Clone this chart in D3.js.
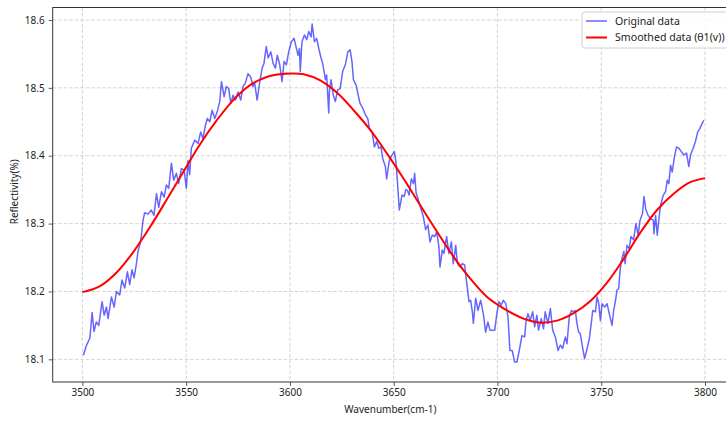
<!DOCTYPE html>
<html>
<head>
<meta charset="utf-8">
<script src="https://cdn.jsdelivr.net/npm/d3@7"></script>
<style>
html,body{margin:0;padding:0;background:#fff;}
svg{display:block;font-family:"Noto Sans","Open Sans",sans-serif;}
</style>
</head>
<body>
<svg id="chart" width="726" height="421"></svg>
<script>
// Original (noisy) data
const origWavenumber = [3500.5,3502.0,3503.6,3504.7,3505.6,3506.7,3507.9,3509.5,3510.5,3511.6,3512.4,3514.0,3515.3,3516.4,3518.0,3519.1,3520.4,3521.7,3522.8,3523.9,3524.9,3526.0,3526.8,3528.1,3529.2,3530.0,3531.7,3533.2,3534.5,3535.7,3536.8,3538.1,3539.4,3540.5,3541.6,3542.9,3544.0,3545.3,3546.4,3547.7,3549.0,3550.1,3550.9,3551.7,3552.5,3554.2,3555.7,3557.0,3558.1,3559.3,3560.2,3561.4,3562.5,3563.8,3565.0,3566.2,3567.0,3568.3,3569.4,3570.5,3571.5,3572.6,3573.7,3575.0,3576.3,3577.4,3578.5,3579.8,3581.1,3582.2,3583.0,3584.2,3585.5,3586.6,3587.5,3588.6,3589.5,3590.8,3591.9,3593.0,3593.9,3595.1,3596.2,3597.2,3598.3,3599.4,3600.7,3602.0,3603.0,3603.9,3604.6,3605.0,3605.8,3607.0,3608.1,3609.1,3610.2,3610.7,3611.8,3612.9,3613.9,3615.0,3615.8,3617.1,3617.7,3618.7,3619.0,3619.8,3620.9,3621.9,3623.0,3624.2,3625.4,3626.7,3627.9,3629.0,3629.9,3630.6,3631.9,3632.7,3633.8,3635.1,3636.4,3637.5,3638.3,3639.6,3640.7,3641.8,3642.8,3643.9,3644.7,3646.0,3646.6,3647.9,3649.2,3650.3,3651.1,3651.9,3652.7,3654.0,3655.1,3655.8,3656.6,3657.4,3658.5,3659.5,3660.1,3660.8,3661.7,3663.0,3664.3,3665.4,3666.5,3667.5,3668.6,3669.8,3670.7,3671.8,3672.3,3673.4,3674.2,3675.5,3676.6,3677.8,3678.7,3679.9,3680.7,3682.0,3683.1,3684.2,3685.2,3686.3,3687.1,3687.9,3688.4,3689.5,3690.6,3691.9,3693.2,3694.3,3695.4,3696.4,3697.5,3698.7,3699.6,3700.7,3701.8,3702.8,3704.0,3705.1,3706.0,3707.1,3708.3,3709.4,3710.5,3711.8,3713.1,3713.8,3714.7,3715.8,3717.0,3717.9,3719.0,3719.8,3721.1,3722.2,3723.0,3724.3,3725.5,3726.6,3727.9,3729.2,3730.3,3731.4,3732.7,3733.5,3734.6,3735.6,3736.7,3737.5,3738.3,3739.1,3739.9,3741.1,3742.0,3743.2,3744.3,3745.2,3745.9,3747.2,3748.0,3748.8,3749.6,3750.4,3751.7,3752.8,3753.9,3755.2,3756.0,3756.8,3757.6,3758.4,3759.1,3759.6,3760.9,3761.5,3762.4,3763.5,3764.3,3765.6,3766.7,3767.8,3768.7,3769.9,3770.6,3771.4,3772.6,3773.8,3775.1,3775.4,3776.2,3777.0,3777.8,3778.6,3779.9,3781.0,3781.8,3782.6,3783.4,3784.2,3785.3,3786.3,3787.4,3788.6,3789.8,3791.1,3792.2,3793.0,3794.3,3795.4,3796.5,3797.5,3798.7,3799.4];
const origReflectivity = [18.106,18.121,18.131,18.169,18.141,18.155,18.150,18.185,18.165,18.177,18.160,18.192,18.177,18.200,18.195,18.217,18.205,18.229,18.210,18.232,18.220,18.240,18.259,18.274,18.304,18.316,18.314,18.320,18.312,18.344,18.324,18.347,18.339,18.357,18.352,18.389,18.364,18.374,18.359,18.381,18.379,18.352,18.393,18.372,18.411,18.423,18.418,18.435,18.425,18.445,18.455,18.450,18.467,18.455,18.465,18.480,18.509,18.487,18.502,18.499,18.477,18.489,18.482,18.494,18.482,18.502,18.507,18.521,18.516,18.502,18.507,18.482,18.509,18.529,18.536,18.561,18.544,18.553,18.536,18.529,18.548,18.534,18.509,18.539,18.534,18.553,18.568,18.573,18.560,18.548,18.558,18.524,18.568,18.578,18.571,18.583,18.575,18.594,18.568,18.573,18.558,18.544,18.536,18.512,18.519,18.463,18.494,18.512,18.489,18.480,18.497,18.499,18.524,18.534,18.553,18.556,18.539,18.512,18.504,18.492,18.477,18.470,18.460,18.455,18.440,18.435,18.413,18.421,18.411,18.413,18.396,18.384,18.366,18.393,18.401,18.406,18.391,18.357,18.320,18.342,18.340,18.350,18.349,18.342,18.366,18.359,18.374,18.345,18.337,18.323,18.310,18.291,18.298,18.273,18.283,18.281,18.288,18.266,18.236,18.261,18.256,18.281,18.256,18.273,18.241,18.268,18.241,18.236,18.241,18.239,18.212,18.185,18.187,18.170,18.153,18.190,18.172,18.187,18.167,18.140,18.155,18.143,18.143,18.143,18.165,18.185,18.180,18.187,18.182,18.162,18.113,18.113,18.096,18.096,18.113,18.135,18.133,18.157,18.167,18.157,18.170,18.148,18.165,18.143,18.160,18.145,18.170,18.153,18.175,18.143,18.133,18.113,18.121,18.116,18.133,18.123,18.162,18.172,18.170,18.172,18.153,18.140,18.138,18.116,18.101,18.116,18.131,18.153,18.172,18.170,18.192,18.182,18.157,18.182,18.177,18.182,18.167,18.150,18.172,18.185,18.202,18.204,18.231,18.244,18.259,18.241,18.268,18.263,18.281,18.276,18.300,18.283,18.305,18.315,18.340,18.322,18.312,18.307,18.305,18.285,18.312,18.283,18.307,18.327,18.342,18.347,18.364,18.359,18.386,18.376,18.399,18.413,18.411,18.406,18.401,18.404,18.384,18.401,18.411,18.421,18.435,18.440,18.448,18.452];

// Smoothed data
const smoothWavenumber = [3500,3508.5,3516.5,3524.5,3532.6,3540.6,3548.6,3556.7,3564.7,3572.7,3580.8,3588.8,3595.2,3600,3606.6,3614.6,3622.6,3630.7,3638.7,3646.8,3654.8,3662.8,3670.9,3678.9,3686.9,3695.0,3701.4,3704.6,3712.6,3720.7,3728.7,3736.7,3744.8,3752.8,3760.8,3768.9,3776.9,3784.9,3792.9,3800];
const smoothReflectivity = [18.199,18.208,18.228,18.258,18.295,18.335,18.376,18.417,18.452,18.482,18.504,18.516,18.520,18.521,18.520,18.511,18.493,18.467,18.438,18.403,18.366,18.327,18.288,18.251,18.219,18.192,18.178,18.172,18.160,18.154,18.157,18.168,18.186,18.213,18.248,18.287,18.320,18.344,18.361,18.367];

const xTicks = [3500,3550,3600,3650,3700,3750,3800];
const yTicks = [18.1,18.2,18.3,18.4,18.5,18.6];
const seriesNames = ["Original data","Smoothed data (θ1(v))"];

const svg = d3.select("#chart");
const W = 726, H = 421;
const plot = {left:52.7, right:738, top:7.5, bottom:382};

const x = d3.scaleLinear().domain([3485.7, 3815.9]).range([plot.left, plot.right]);
const y = d3.scaleLinear().domain([18.0666, 18.6184]).range([plot.bottom, plot.top]);

svg.append("rect").attr("width",W).attr("height",H).attr("fill","#fff");

// grid
const grid = svg.append("g");
grid.selectAll("line.vx").data(xTicks).join("line")
  .attr("x1",d=>x(d)).attr("x2",d=>x(d)).attr("y1",plot.top).attr("y2",plot.bottom)
  .attr("stroke","#c8c8c8").attr("stroke-width",0.8).attr("stroke-dasharray","3.5,2");
grid.selectAll("line.hy").data(yTicks).join("line")
  .attr("y1",d=>y(d)).attr("y2",d=>y(d)).attr("x1",plot.left).attr("x2",plot.right)
  .attr("stroke","#c8c8c8").attr("stroke-width",0.8).attr("stroke-dasharray","3.5,2");

const orig = origWavenumber.map((w,i)=>[w, origReflectivity[i]]);
const smooth = smoothWavenumber.map((w,i)=>[w, smoothReflectivity[i]]);

svg.append("path").datum(orig)
  .attr("fill","none").attr("stroke","rgb(0,0,255)").attr("stroke-opacity",0.6)
  .attr("stroke-width",1.5).attr("stroke-linejoin","round")
  .attr("d", d3.line().x(d=>x(d[0])).y(d=>y(d[1])));

svg.append("path").datum(smooth)
  .attr("fill","none").attr("stroke","#ff0000").attr("stroke-width",2)
  .attr("d", d3.line().curve(d3.curveCatmullRom).x(d=>x(d[0])).y(d=>y(d[1])));

// axes
const xAxis = svg.append("g").attr("transform",`translate(0,${plot.bottom})`)
  .call(d3.axisBottom(x).tickValues(xTicks).tickSize(4).tickPadding(3).tickFormat(d3.format("d")));
const yAxis = svg.append("g").attr("transform",`translate(${plot.left},0)`)
  .call(d3.axisLeft(y).tickValues(yTicks).tickSize(4).tickPadding(4).tickFormat(d3.format(".1f")));
[xAxis,yAxis].forEach(g=>{
  g.select(".domain").remove();
  g.selectAll("line").attr("stroke","#333").attr("stroke-width",0.8);
  g.selectAll("text").attr("fill","#222").style("font-size","10px").style("font-family","'Noto Sans','Open Sans',sans-serif");
});

// frame
svg.append("rect").attr("x",plot.left).attr("y",plot.top)
  .attr("width",plot.right-plot.left).attr("height",plot.bottom-plot.top)
  .attr("fill","none").attr("stroke","#333").attr("stroke-width",1);

// labels
svg.append("text").attr("x",(plot.left+plot.right)/2 - 5).attr("y",413)
  .attr("text-anchor","middle").attr("fill","#222").style("font-size","10px").text("Wavenumber(cm-1)");
svg.append("text").attr("transform",`translate(18,${(plot.top+plot.bottom)/2 - 3}) rotate(-90)`)
  .attr("text-anchor","middle").attr("fill","#222").style("font-size","10px").text("Reflectivity(%)");

// legend
const lg = svg.append("g").attr("transform","translate(582,12)");
lg.append("rect").attr("width",170).attr("height",36).attr("rx",3)
  .attr("fill","#fff").attr("fill-opacity",0.85).attr("stroke","#d0d0d0").attr("stroke-width",1);
const legendStyles = [
  {stroke:"rgb(0,0,255)", op:0.6, w:1.5},
  {stroke:"#ff0000", op:1, w:2}
];
seriesNames.forEach((name,i)=>{
  const yy = 9 + i*16.5;
  lg.append("line").attr("x1",4).attr("x2",25).attr("y1",yy).attr("y2",yy)
    .attr("stroke",legendStyles[i].stroke).attr("stroke-opacity",legendStyles[i].op).attr("stroke-width",legendStyles[i].w);
  lg.append("text").attr("x",33).attr("y",yy+3.7).attr("fill","#222").style("font-size","10.6px").text(name);
});
</script>
</body>
</html>
